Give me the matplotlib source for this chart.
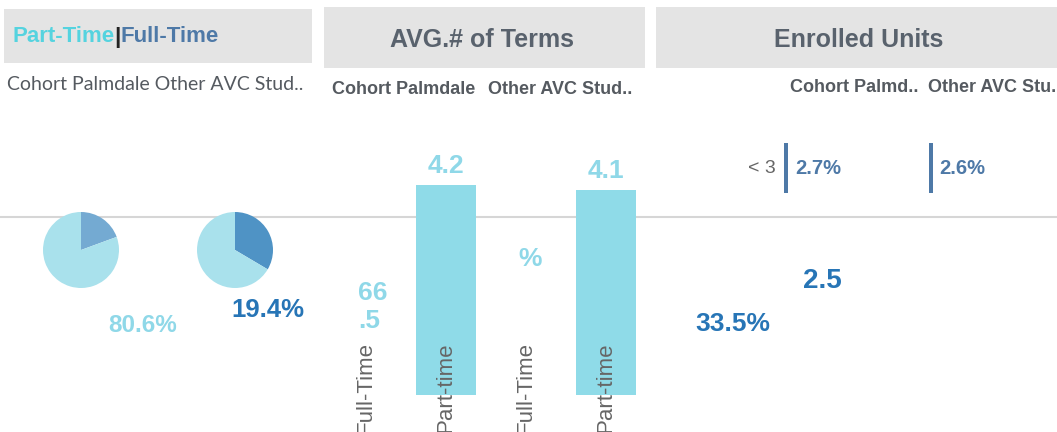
import numpy as np
import matplotlib.pyplot as plt
from matplotlib.patches import Rectangle

plt.rcParams['font.family'] = ['Liberation Sans', 'DejaVu Sans']

W, H = 1057, 432

# data
groups = ["Cohort Palmdale", "Other AVC Stud.."]
groups_short = ["Cohort Palmd..", "Other AVC Stu."]
full_time_pct = [19.4, 33.5]
part_time_pct = [80.6, 66.5]
term_labels = ["Full-Time", "Part-time", "Full-Time", "Part-time"]
avg_terms = [np.nan, 4.2, np.nan, 4.1]
unit_bucket = "< 3"
unit_pct = [2.7, 2.6]
avg_units = 2.5

LIGHT = "#a9e1ec"
PIE_FT = ["#74aad2", "#4f93c5"]
BAR = "#8fdbe8"
CYAN_TXT = "#8fd8e8"
DARK = "#2775b6"
STEEL = "#4e79a7"
HEAD = "#59626d"
SUB = "#555a60"


def rect(x0, y0, x1, y1):
    # pixel box (top-left origin) -> figure fraction
    return [x0 / W, 1 - y1 / H, (x1 - x0) / W, (y1 - y0) / H]


fig = plt.figure(figsize=(W / 100, H / 100), dpi=100)
bg = fig.add_axes([0, 0, 1, 1])
bg.set_xlim(0, W)
bg.set_ylim(H, 0)
bg.axis('off')

# header boxes
for x0, y0, x1, y1 in [(4, 9, 312, 63), (324, 7, 645, 68), (656, 7, 1060, 68)]:
    bg.add_patch(Rectangle((x0, y0), x1 - x0, y1 - y0, color="#e4e4e4", lw=0))
bg.axhline(217, color="#d6d6d6", lw=1.5, zorder=0)

# header texts
t1 = bg.text(12, 37, "Part-Time", color="#55d3df", fontsize=16,
             weight='bold', va='center')
t2 = bg.annotate("|", xy=(1, 0.5), xycoords=t1, va='center', ha='left',
                 fontsize=16, weight='bold', color="#222222")
bg.annotate("Full-Time", xy=(1, 0.5), xycoords=t2, va='center', ha='left',
            fontsize=16, weight='bold', color=STEEL)
bg.text(482, 40, "AVG.# of Terms", ha='center', va='center', fontsize=18,
        weight='bold', color=HEAD)
bg.text(859, 40, "Enrolled Units", ha='center', va='center', fontsize=18,
        weight='bold', color=HEAD)

# column headers
bg.text(7, 84, " ".join(groups), family=['Lato', 'DejaVu Sans'], fontsize=14,
        color=SUB, va='center')
for x, g in zip([332, 488], groups):
    bg.text(x, 90, g, fontsize=13, weight='bold', color=SUB, va='center')
for x, g in zip([790, 928], groups_short):
    bg.text(x, 88, g, fontsize=13, weight='bold', color=SUB, va='center')

# pies
for i, cx in enumerate([81, 235]):
    pax = fig.add_axes(rect(cx - 40, 210, cx + 40, 290))
    pax.pie([full_time_pct[i], part_time_pct[i]], colors=[PIE_FT[i], LIGHT],
            startangle=90, counterclock=False, radius=0.95,
            wedgeprops=dict(linewidth=0))
    pax.set_xlim(-1, 1)
    pax.set_ylim(-1, 1)
    pax.set_aspect('equal')

bg.text(143, 325, f"{part_time_pct[0]}%", ha='center', va='center',
        fontsize=17.5, weight='bold', color=CYAN_TXT)
bg.text(268, 310, f"{full_time_pct[0]}%", ha='center', va='center',
        fontsize=18.5, weight='bold', color=DARK)

# avg terms bars
bax = fig.add_axes(rect(326, 145, 646, 395))
x = np.arange(len(term_labels))
bax.bar(x, avg_terms, width=0.76, color=BAR, zorder=1)
bax.set_xlim(-0.5, len(term_labels) - 0.5)
bax.set_ylim(0, 5)
bax.axis('off')
for i, (lbl, v) in enumerate(zip(term_labels, avg_terms)):
    bax.annotate(lbl, xy=(i, 0), xycoords=('data', 'axes fraction'),
                 xytext=(0, 38), textcoords='offset points', rotation=90,
                 ha='center', va='top', fontsize=16, color="#666666",
                 annotation_clip=False, zorder=3)
    if not np.isnan(v):
        bax.annotate(f"{v}", xy=(i, v), xytext=(0, 5),
                     textcoords='offset points', ha='center', va='bottom',
                     fontsize=19, weight='bold', color=CYAN_TXT,
                     annotation_clip=False)

# stray overlapping labels
s = f"{part_time_pct[1]}"
bg.text(358, 307, s[:2] + "\n" + s[2:], ha='left', va='center', fontsize=19,
        weight='bold', color=CYAN_TXT)
bg.text(530, 259, "%", ha='center', va='center', fontsize=19,
        weight='bold', color=CYAN_TXT)

# enrolled units
for i, x0 in enumerate([784, 929]):
    uax = fig.add_axes(rect(x0, 143, x0 + 145, 193))
    uax.barh([0], [unit_pct[i]], height=1, color=STEEL)
    uax.set_xlim(0, 100)
    uax.set_ylim(-0.5, 0.5)
    uax.axis('off')
    uax.annotate(f"{unit_pct[i]}%", xy=(unit_pct[i], 0), xytext=(5, 0),
                 textcoords='offset points', ha='left', va='center',
                 fontsize=14.5, weight='bold', color=STEEL,
                 annotation_clip=False)
    if i == 0:
        uax.annotate(unit_bucket, xy=(0, 0), xytext=(-6, 0),
                     textcoords='offset points', ha='right', va='center',
                     fontsize=14, color="#666666", annotation_clip=False)

bg.text(822, 281, f"{avg_units}", ha='center', va='center', fontsize=20,
        weight='bold', color=DARK)
bg.text(733, 324, f"{full_time_pct[1]}%", ha='center', va='center',
        fontsize=19, weight='bold', color=DARK)

fig.savefig("out.png", dpi=100)
